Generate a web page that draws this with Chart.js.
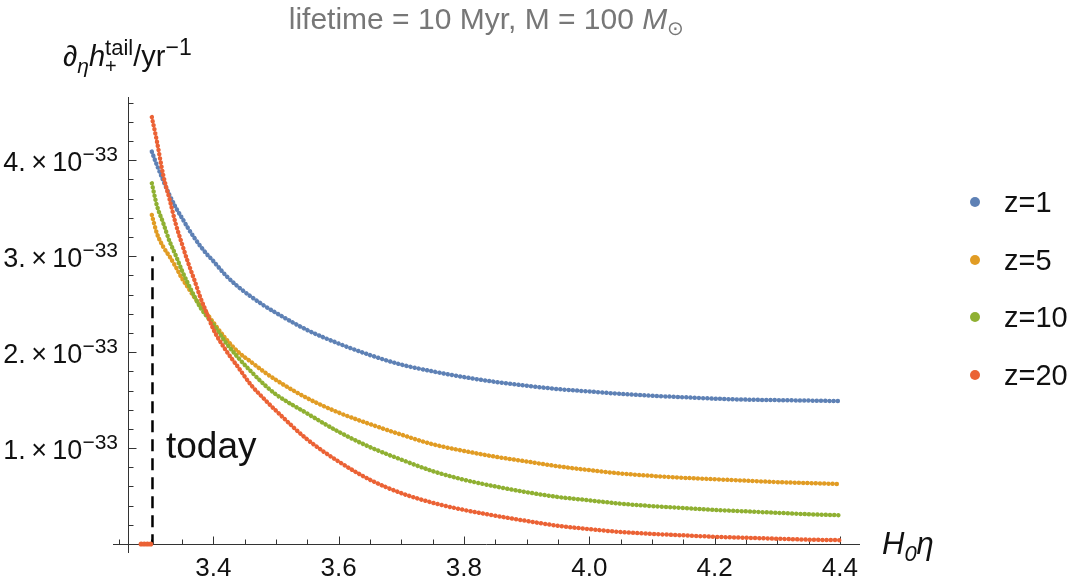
<!DOCTYPE html>
<html>
<head>
<meta charset="utf-8">
<script src="https://cdn.jsdelivr.net/npm/chart.js@4.4.1/dist/chart.umd.min.js"></script>
<style>
  html, body { margin: 0; padding: 0; background: #fff; }
</style>
</head>
<body>
<canvas id="c" width="1085" height="580"></canvas>
<script>
// H0*eta sample positions, values in units of 1e-33 yr^-1
const etaGrid = [3.302, 3.31, 3.32, 3.33, 3.34, 3.35, 3.36, 3.37, 3.38, 3.39,
  3.40, 3.42, 3.44, 3.46, 3.48, 3.50, 3.55, 3.60, 3.65, 3.70,
  3.75, 3.80, 3.85, 3.90, 3.95, 4.00, 4.05, 4.10, 4.15, 4.20,
  4.25, 4.30, 4.35, 4.40];
const z1 = [4.09, 3.95, 3.79, 3.64, 3.51, 3.40, 3.29, 3.19, 3.10, 3.02,
  2.95, 2.80, 2.68, 2.58, 2.49, 2.41, 2.23, 2.09, 1.97, 1.87,
  1.80, 1.74, 1.69, 1.65, 1.615, 1.59, 1.565, 1.545, 1.53, 1.515,
  1.505, 1.50, 1.495, 1.49];
const z5 = [3.43, 3.24, 3.10, 3.00, 2.89, 2.77, 2.67, 2.57, 2.48, 2.40,
  2.31, 2.14, 2.00, 1.90, 1.80, 1.71, 1.52, 1.37, 1.25, 1.14,
  1.04, 0.97, 0.91, 0.86, 0.81, 0.77, 0.735, 0.71, 0.69, 0.675,
  0.66, 0.645, 0.635, 0.625];
const z10 = [3.76, 3.53, 3.35, 3.16, 3.01, 2.85, 2.71, 2.58, 2.46, 2.37,
  2.29, 2.10, 1.94, 1.80, 1.67, 1.56, 1.36, 1.17, 1.01, 0.88,
  0.76, 0.67, 0.60, 0.54, 0.49, 0.455, 0.42, 0.395, 0.375, 0.355,
  0.34, 0.325, 0.31, 0.30];
const z20 = [4.45, 4.20, 3.85, 3.60, 3.34, 3.13, 2.93, 2.75, 2.56, 2.40,
  2.24, 2.02, 1.84, 1.66, 1.52, 1.39, 1.09, 0.86, 0.67, 0.53,
  0.43, 0.355, 0.295, 0.24, 0.19, 0.155, 0.125, 0.105, 0.09, 0.075,
  0.065, 0.055, 0.045, 0.04];
// z=20 points sitting on zero before "today"
const z20BeforeEta = [3.285, 3.29, 3.295, 3.30];
const z20BeforeVal = [0, 0, 0, 0];

const seriesLabels = ['z=1', 'z=5', 'z=10', 'z=20'];
const seriesColors = ['#5e81b5', '#e19c24', '#8fb032', '#eb6235'];

const todayEta = 3.303;
const todayTop = 3;

const xTicks = [3.4, 3.6, 3.8, 4.0, 4.2, 4.4];
const xTickLabels = ['3.4', '3.6', '3.8', '4.0', '4.2', '4.4'];
const yTicks = [1, 2, 3, 4];
const yTickLabels = ['1.', '2.', '3.', '4.'];

const FONT = '"Liberation Sans", Arial, sans-serif';
const font = (size, italic) => (italic ? 'italic ' : '') + size + 'px ' + FONT;
const AXIS = '#333';

function runsWidth(ctx, runs) {
  let w = 0;
  for (const r of runs) { ctx.font = r[1]; w += ctx.measureText(r[0]).width; }
  return w;
}
function drawRuns(ctx, x, y, runs) {
  let cx = x;
  for (const r of runs) {
    ctx.font = r[1];
    ctx.fillText(r[0], cx, y + (r[2] || 0));
    cx += ctx.measureText(r[0]).width;
  }
  return cx;
}

const decor = {
  id: 'decor',
  beforeDatasetsDraw(chart) {
    const { ctx, chartArea: a } = chart;
    const xs = chart.scales.x, ys = chart.scales.y;
    const x0 = Math.round(xs.getPixelForValue(3.264)) + 0.5;
    const y0 = Math.round(ys.getPixelForValue(0)) + 0.5;
    ctx.save();
    ctx.strokeStyle = AXIS;
    ctx.lineWidth = 1;
    ctx.beginPath();
    ctx.moveTo(a.left, y0); ctx.lineTo(a.right, y0);
    ctx.moveTo(x0, a.top); ctx.lineTo(x0, a.bottom);
    // x ticks every 0.05, major on labels
    for (let k = 0; k <= 23; k++) {
      const v = 3.25 + k * 0.05;
      const px = Math.round(xs.getPixelForValue(v)) + 0.5;
      const major = xTicks.some(t => Math.abs(t - v) < 1e-6);
      ctx.moveTo(px, y0); ctx.lineTo(px, y0 - (major ? 8 : 5));
    }
    // y ticks every 0.2
    for (let k = 1; k <= 23; k++) {
      const v = k * 0.2;
      const py = Math.round(ys.getPixelForValue(v)) + 0.5;
      const major = yTicks.some(t => Math.abs(t - v) < 1e-6);
      ctx.moveTo(x0, py); ctx.lineTo(x0 + (major ? 8 : 5), py);
    }
    ctx.stroke();
    ctx.restore();
  },
  afterDatasetsDraw(chart) {
    const { ctx, chartArea: a } = chart;
    const xs = chart.scales.x, ys = chart.scales.y;
    ctx.save();
    ctx.textBaseline = 'alphabetic';
    ctx.fillStyle = '#111';

    // x tick labels
    ctx.textAlign = 'center';
    ctx.font = font(26);
    xTicks.forEach((t, i) => ctx.fillText(xTickLabels[i], xs.getPixelForValue(t), 576));

    // y tick labels  n.×10^-33
    ctx.textAlign = 'left';
    yTicks.forEach((t, i) => {
      const runs = [[yTickLabels[i] + '\u2009×\u200910', font(27)], ['−33', font(21), -10]];
      const w = runsWidth(ctx, runs);
      drawRuns(ctx, 118 - w, ys.getPixelForValue(t) + 11, runs);
    });

    // axis labels
    let cx = drawRuns(ctx, 63, 66, [['∂', font(29, true)], ['η', font(21, true), 7], ['h', font(29, true)]]);
    ctx.font = font(20); ctx.fillText('+', cx, 73);
    const w1 = ctx.measureText('+').width;
    ctx.font = font(22); ctx.fillText('tail', cx, 55);
    cx += Math.max(w1, ctx.measureText('tail').width);
    drawRuns(ctx, cx, 66, [['/yr', font(29)], ['−1', font(23), -11]]);

    drawRuns(ctx, 882, 554, [['H', font(31, true)], ['0', font(22, true), 7], ['η', font(31, true)]]);

    // today
    ctx.font = font(37);
    ctx.fillText('today', xs.getPixelForValue(3.3245), ys.getPixelForValue(0.9));

    // title
    ctx.fillStyle = '#777';
    const title = [['lifetime = 10 Myr, M = 100 ', font(30)], ['M', font(30, true)], ['⊙', font(20), 6]];
    const tw = runsWidth(ctx, title);
    drawRuns(ctx, (a.left + a.right) / 2 - tw / 2, 29, title);

    // legend
    const legY = [202, 260, 317, 375];
    seriesLabels.forEach((lab, i) => {
      ctx.fillStyle = seriesColors[i];
      ctx.beginPath(); ctx.arc(975, legY[i], 5, 0, Math.PI * 2); ctx.fill();
      ctx.fillStyle = '#111';
      ctx.font = font(29);
      ctx.fillText(lab, 1004, legY[i] + 10);
    });
    ctx.restore();
  }
};

const seriesData = [z1, z5, z10, z20];
const datasets = seriesData.map((vals, i) => ({
  label: seriesLabels[i],
  data: etaGrid.map((e, j) => ({ x: e, y: vals[j] })),
  borderColor: seriesColors[i],
  borderWidth: 4.5,
  borderDash: [0.01, 4.2],
  borderCapStyle: 'round',
  cubicInterpolationMode: 'monotone',
  pointRadius: 0,
  fill: false,
  order: 10 - i
}));
datasets.push({
  label: 'z=20 before',
  data: z20BeforeEta.map((e, j) => ({ x: e, y: z20BeforeVal[j] })),
  showLine: false,
  pointRadius: 2.6,
  pointBorderWidth: 0,
  pointBackgroundColor: seriesColors[3],
  order: 1
});
datasets.push({
  label: 'today',
  data: [{ x: todayEta, y: todayTop }, { x: todayEta, y: 0 }],
  borderColor: '#000',
  borderWidth: 2.5,
  borderDash: [12, 7],
  borderDashOffset: 7,
  pointRadius: 0,
  order: 20
});

new Chart(document.getElementById('c'), {
  type: 'line',
  data: { datasets },
  options: {
    responsive: false,
    animation: false,
    layout: { padding: { left: 113, right: 225, top: 97, bottom: 27 } },
    plugins: { legend: { display: false }, tooltip: { enabled: false }, title: { display: false } },
    scales: {
      x: { type: 'linear', min: 3.24, max: 4.432, display: false },
      y: { type: 'linear', min: -0.094, max: 4.66, display: false }
    }
  },
  plugins: [decor]
});
</script>
</body>
</html>
